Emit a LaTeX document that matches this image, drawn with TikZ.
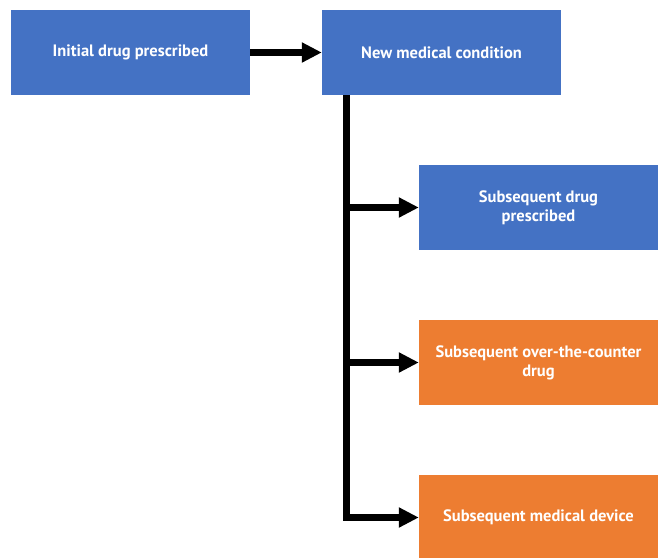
\documentclass[tikz,border=0pt]{standalone}
\usepackage{fontspec}
\setmainfont{PT Sans}
\usepackage{tikz}
\usetikzlibrary{arrows.meta}
\definecolor{boxblue}{HTML}{4472C4}
\definecolor{boxorange}{HTML}{ED7D31}
\tikzset{>={Triangle[length=20pt,width=19pt]}}
\tikzset{
  stepbox/.style={anchor=center,rectangle,minimum width=239pt,minimum height=85pt,
    inner sep=0pt,align=center,text=white,font=\bfseries\fontsize{16.5}{19}\selectfont},
  flow/.style={line width=6.5pt,->}
}

\begin{document}
\begin{tikzpicture}[x=1pt,y=-1pt]
    \useasboundingbox (0,0) rectangle (660,557);

    \coordinate (c1) at (130.5, 52.5);
    \coordinate (c2) at (441.5, 52.5);
    \coordinate (c3) at (538.5, 207.5);
    \coordinate (c4) at (538.5, 362.5);
    \coordinate (c5) at (538.5, 517.5);

    \node [stepbox,fill=boxblue] (initial) at (c1) {Initial drug prescribed};
    \node [stepbox,fill=boxblue] (newcond) at (c2) {New medical condition};
    \node [stepbox,fill=boxblue] (subdrug) at (c3) {Subsequent drug\\prescribed};
    \node [stepbox,fill=boxorange] (otc) at (c4) {Subsequent over-the-counter\\drug};
    \node [stepbox,fill=boxorange] (device) at (c5) {Subsequent medical device};

    \coordinate (trunk) at ([xshift=-95pt]newcond.south);

    \draw [flow] (initial) -- (newcond);
    \draw [line width=7pt] (trunk) -- (trunk |- device.west)
      -- ++(0,3.5pt);
    \draw [flow] (trunk |- subdrug.west) -- (subdrug.west);
    \draw [flow] (trunk |- otc.west) -- (otc.west);
    \draw [flow] ([xshift=-3.5pt]trunk |- device.west) -- (device.west);
  \end{tikzpicture}
\end{document}
